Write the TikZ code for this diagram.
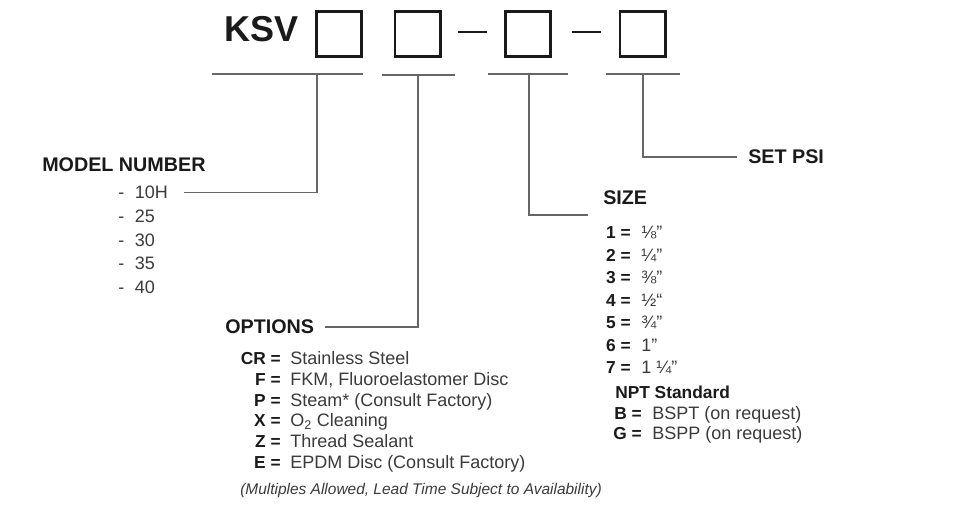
\documentclass[tikz,border=0pt]{standalone}
\usepackage{fontspec}
\setmainfont{Liberation Sans}
\usetikzlibrary{positioning}
\definecolor{ink}{HTML}{1A1A1A}
\definecolor{txt}{HTML}{3A3A3A}
\definecolor{rule}{HTML}{666666}
\begin{document}
\begin{tikzpicture}[x=0.75pt,y=-0.75pt,
slot/.style={draw=ink,line width=2pt,minimum size=34pt,inner sep=0pt},
head/.style={font=\fontsize{14.8}{17}\selectfont\bfseries,text=ink,inner sep=0pt},
key/.style={font=\fontsize{13}{15}\selectfont\bfseries,text=ink,inner sep=0pt},
item/.style={font=\fontsize{13.5}{16}\selectfont,text=txt,inner sep=0pt},
lead/.style={draw=rule,line width=1.1pt}]
\useasboundingbox(0,0)rectangle(960,506);
\node[font=\fontsize{27}{30}\selectfont\bfseries,text=ink,inner sep=0pt,anchor=base west](ksv)at(224,42){KSV};
\node[slot](b1)at(339,34){};
\node[slot](b2)at(417.5,34){};
\node[slot](b3)at(528,34){};
\node[slot](b4)at(642.5,34){};
\draw[ink,line width=2pt](458,32)--(487,32);
\draw[ink,line width=2pt](572,32)--(601,32);
\draw[lead](212,74)--(363,74);
\draw[lead](382,75)--(455,75);
\draw[lead](488,74)--(568,74);
\draw[lead](606,74)--(680,74);
\coordinate(j1)at(317,74);
\coordinate(j2)at(418,75);
\coordinate(j3)at(529,74);
\coordinate(j4)at(643,74);
\node[head,anchor=west](model)at(42,165){MODEL NUMBER};
\node[item,anchor=base west](m1)at(118,198.5){-\hspace{8pt}10H};
\node[item,anchor=base west](m2)at(118,222.3){-\hspace{8pt}25};
\node[item,anchor=base west](m3)at(118,246.1){-\hspace{8pt}30};
\node[item,anchor=base west](m4)at(118,269.9){-\hspace{8pt}35};
\node[item,anchor=base west](m5)at(118,293.7){-\hspace{8pt}40};
\draw[lead,shorten >=12pt](j1)|-(m1);
\node[head,anchor=west](opt)at(225,327){OPTIONS};
\draw[lead,shorten >=8pt](j2)|-(opt);
\node[key,anchor=base east](ok1)at(281,364.5){CR =};
\node[key,anchor=base east](ok2)at(281,385.3){F =};
\node[key,anchor=base east](ok3)at(281,406.1){P =};
\node[key,anchor=base east](ok4)at(281,426.9){X =};
\node[key,anchor=base east](ok5)at(281,447.7){Z =};
\node[key,anchor=base east](ok6)at(281,468.5){E =};
\node[item,anchor=base west](ov1)at(290,364.5){Stainless Steel};
\node[item,anchor=base west](ov2)at(290,385.3){FKM, Fluoroelastomer Disc};
\node[item,anchor=base west](ov3)at(290,406.1){Steam* (Consult Factory)};
\node[item,anchor=base west](ov4)at(290,426.9){O\textsubscript{2} Cleaning};
\node[item,anchor=base west](ov5)at(290,447.7){Thread Sealant};
\node[item,anchor=base west](ov6)at(290,468.5){EPDM Disc (Consult Factory)};
\node[font=\fontsize{11.6}{14}\selectfont\itshape,text=txt,inner sep=0pt,anchor=west](note)at(240,490){(Multiples Allowed, Lead Time Subject to Availability)};
\node[head,anchor=west](size)at(603,198){SIZE};
\coordinate(szend)at(588,215);
\draw[lead](j3)|-(szend);
\node[key,anchor=base east](sk1)at(631,238.5){1 =};
\node[key,anchor=base east](sk2)at(631,261){2 =};
\node[key,anchor=base east](sk3)at(631,283.5){3 =};
\node[key,anchor=base east](sk4)at(631,306){4 =};
\node[key,anchor=base east](sk5)at(631,328.5){5 =};
\node[key,anchor=base east](sk6)at(631,351){6 =};
\node[key,anchor=base east](sk7)at(631,373.5){7 =};
\node[item,anchor=base west](sv1)at(641,238.5){⅛”};
\node[item,anchor=base west](sv2)at(641,261){¼”};
\node[item,anchor=base west](sv3)at(641,283.5){⅜”};
\node[item,anchor=base west](sv4)at(641,306){½“};
\node[item,anchor=base west](sv5)at(641,328.5){¾”};
\node[item,anchor=base west](sv6)at(641,351){1”};
\node[item,anchor=base west](sv7)at(641,373.5){1 ¼”};
\node[key,anchor=base west](npt)at(615,398.5){NPT Standard};
\node[key,anchor=base east](bk)at(642,419.5){B =};
\node[key,anchor=base east](gk)at(642,439.5){G =};
\node[item,anchor=base west](bv)at(652,419.5){BSPT (on request)};
\node[item,anchor=base west](gv)at(652,439.5){BSPP (on request)};
\node[head,anchor=west](psi)at(748,157){SET PSI};
\draw[lead,shorten >=8pt](j4)|-(psi);
\end{tikzpicture}
\end{document}
